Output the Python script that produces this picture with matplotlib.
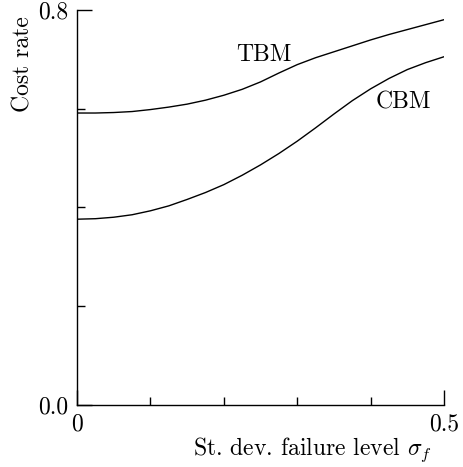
import matplotlib
matplotlib.use("Agg")
import matplotlib.pyplot as plt
from matplotlib.ticker import FixedLocator

plt.rcParams["font.family"] = "cmr10"
plt.rcParams["mathtext.fontset"] = "cm"
plt.rcParams["axes.unicode_minus"] = False

# cost rate vs st. dev. of the failure level
sigma_f = [0.000, 0.025, 0.050, 0.075, 0.100, 0.125, 0.150, 0.175, 0.200, 0.225,
           0.250, 0.275, 0.300, 0.325, 0.350, 0.375, 0.400, 0.425, 0.450, 0.475, 0.500]
tbm = [0.591, 0.591, 0.592, 0.594, 0.598, 0.603, 0.609, 0.617, 0.627, 0.639,
       0.654, 0.672, 0.689, 0.703, 0.715, 0.727, 0.739, 0.750, 0.760, 0.770, 0.780]
cbm = [0.376, 0.377, 0.380, 0.385, 0.393, 0.403, 0.416, 0.430, 0.446, 0.465,
       0.486, 0.509, 0.534, 0.561, 0.589, 0.616, 0.640, 0.661, 0.679, 0.693, 0.705]

x_major = [0.0, 0.5]
x_major_labels = ["0", "0.5"]
x_minor = [0.1, 0.2, 0.3, 0.4]
y_major = [0.0, 0.8]
y_major_labels = ["0.0", "0.8"]
y_minor = [0.2, 0.4, 0.6]

fig = plt.figure(figsize=(4.64, 4.67), dpi=100)
ax = fig.add_axes([0.166, 0.133, 0.791, 0.846])

ax.plot(sigma_f, tbm, color="black", lw=1.0)
ax.plot(sigma_f, cbm, color="black", lw=1.0)

ax.text(0.255, 0.709, "TBM", fontsize=17, ha="center", va="center")
ax.text(0.445, 0.612, "CBM", fontsize=17, ha="center", va="center")

ax.set_xlim(0, 0.5)
ax.set_ylim(0, 0.8)
for side in ("top", "right"):
    ax.spines[side].set_visible(False)
for side in ("left", "bottom"):
    ax.spines[side].set_linewidth(1.0)

ax.set_xticks(x_major, x_major_labels)
ax.set_yticks(y_major, y_major_labels)
ax.xaxis.set_minor_locator(FixedLocator(x_minor))
ax.yaxis.set_minor_locator(FixedLocator(y_minor))
ax.tick_params(which="major", direction="in", length=11, width=1.0, labelsize=17)
ax.tick_params(axis="x", which="major", pad=6)
ax.tick_params(axis="y", which="major", pad=6)
ax.tick_params(which="minor", direction="in", length=6, width=1.0)

ax.set_xlabel(r"St. dev. failure level $\sigma_f$", fontsize=17)
ax.xaxis.set_label_coords(0.967, -0.077)
ax.xaxis.label.set_ha("right")
ax.xaxis.label.set_va("top")
ax.set_ylabel("Cost rate", fontsize=17)
ax.yaxis.set_label_coords(-0.115, 0.862)

fig.savefig("out.png", dpi=100)
